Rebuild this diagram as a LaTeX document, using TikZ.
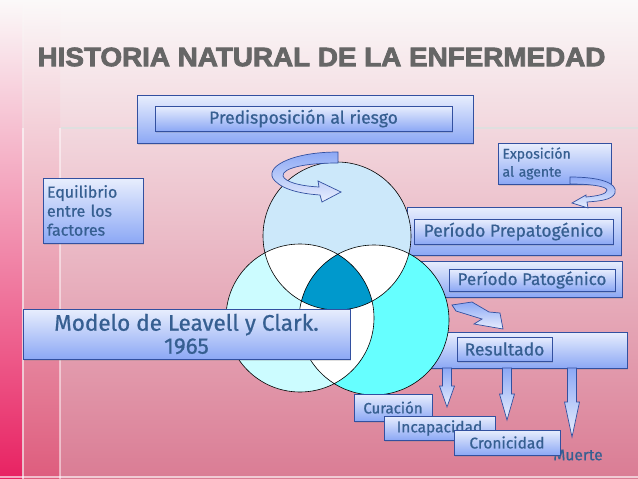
\documentclass[tikz,border=0pt]{standalone}
\usepackage{fontspec}
\setmainfont{Fira Sans}
\newfontfamily\lblfont[FakeBold=0.7]{Fira Sans}
\newfontfamily\titlefont[FakeBold=3]{Liberation Sans}
\usetikzlibrary{shadows}

\definecolor{bgtop}{RGB}{251,249,249}
\definecolor{bgmid}{RGB}{237,206,209}
\definecolor{bgbot}{RGB}{218,124,148}
\definecolor{stripmid}{RGB}{238,170,180}
\definecolor{stripbot}{RGB}{222,92,125}
\definecolor{edgemid}{RGB}{240,150,170}
\definecolor{edgebot}{RGB}{232,34,98}
\definecolor{boxline}{RGB}{50,80,160}
\definecolor{boxtop}{RGB}{232,238,253}
\definecolor{boxbot}{RGB}{140,168,245}
\definecolor{txtblue}{RGB}{54,95,145}
\definecolor{titlegray}{RGB}{102,102,102}
\definecolor{topcirc}{RGB}{204,232,250}
\definecolor{leftcirc}{RGB}{204,252,255}
\definecolor{rightcirc}{RGB}{102,255,255}
\definecolor{venndark}{RGB}{0,153,204}

\begin{document}
\begin{tikzpicture}[x=1pt, y=-1pt,
    every node/.style={text=txtblue},
    box/.style={draw=boxline, line width=0.8pt, rectangle, inner sep=0pt,
        top color=boxtop, bottom color=boxbot,
        drop shadow={opacity=0.25, shadow xshift=1pt, shadow yshift=-1.5pt}},
    blkarr/.style={draw=boxline, line width=0.7pt, top color=boxbot, bottom color=boxtop}]
    \useasboundingbox (0,0) rectangle (638,479);
    % background
    \shade[top color=bgtop, middle color=bgmid, bottom color=bgbot] (0,0) rectangle (638,479);
    \shade[top color=bgtop, middle color=stripmid, bottom color=stripbot] (24,0) rectangle (60,479);
    \shade[top color=bgtop, middle color=edgemid, bottom color=edgebot] (0,0) rectangle (22,479);
    \draw[white, opacity=0.5, line width=2pt] (23,128) -- (23,479);
    \draw[white, opacity=0.5, line width=2pt] (60,128) -- (60,479);
    \draw[gray!25, line width=1.5pt] (61,128) -- (638,128);
    \draw[white, opacity=0.6, line width=1.5pt] (0,477) -- (638,477);

    % title
    \node[text=titlegray, font=\titlefont\fontsize{26.5}{30}\selectfont\bfseries] (title) at (321.5,57)
        {\scalebox{1.05}[1]{HISTORIA NATURAL DE LA ENFERMEDAD}};

    % boxes behind the circles
    \node[box, minimum width=336pt, minimum height=48pt] (predOut) at (305,119) {};
    \node[box, minimum width=297pt, minimum height=25pt, font=\lblfont\fontsize{17.5}{20}\selectfont] (pred) at (303.5,118.5) {Predisposición al riesgo};
    \node[box, minimum width=214pt, minimum height=48pt] (prepOut) at (514,231) {};
    \node[box, minimum width=202pt, minimum height=36pt] (patOut) at (521,279) {};
    \node[box, minimum width=227pt, minimum height=36pt] (resOut) at (513.5,350) {};

    % venn
    \coordinate (ct) at (337,236);
    \coordinate (cl) at (300,318);
    \coordinate (cr) at (374,320);
    \fill[topcirc] (ct) circle (74);
    \fill[leftcirc] (cl) circle (74);
    \fill[rightcirc] (cr) circle (75);
    \begin{scope}
        \clip (ct) circle (74);
        \fill[white] (cl) circle (74);
        \fill[white] (cr) circle (75);
    \end{scope}
    \begin{scope}
        \clip (cl) circle (74);
        \fill[white] (cr) circle (75);
    \end{scope}
    \begin{scope}
        \clip (ct) circle (74);
        \clip (cl) circle (74);
        \fill[venndark] (cr) circle (75);
    \end{scope}
    \draw[line width=0.6pt] (ct) circle (74) (cl) circle (74) (cr) circle (75);

    % curved arrows
    \draw[blkarr] (338,152) .. controls (290,152) and (262,168) .. (275,181)
        .. controls (285,191) and (305,194) .. (320,195) -- (322,202) -- (341,192) -- (318,181) -- (319,187)
        .. controls (300,186) and (285,182) .. (283,176) .. controls (282,168) and (305,163) .. (338,163) -- cycle;

    % text boxes
    \node[box, minimum width=100pt, minimum height=65pt, text width=92pt, align=left,
        font=\lblfont\fontsize{16}{19}\selectfont] (equi) at (93,210.5) {Equilibrio\\entre los\\factores};
    \node[box, minimum width=113pt, minimum height=41pt, text width=104pt, align=left,
        font=\lblfont\fontsize{14}{18}\selectfont] (expo) at (554.5,163.5) {Exposición\\al agente};
    \draw[blkarr] (570,177) .. controls (600,177) and (618,183) .. (615,193)
        .. controls (612,200) and (600,201) .. (587,202) -- (588,208) -- (572,203) -- (586,195) -- (586,197)
        .. controls (598,196) and (607,194) .. (607,190) .. controls (606,186) and (590,184) .. (570,184) -- cycle;
    \node[box, minimum width=199pt, minimum height=25pt, font=\lblfont\fontsize{17.5}{20}\selectfont] (prep) at (513.5,231.5) {Período Prepatogénico};
    \node[box, minimum width=166pt, minimum height=22pt, font=\lblfont\fontsize{17}{20}\selectfont] (pat) at (532,280) {Período Patogénico};
    \draw[blkarr] (452,305) -- (472,302) -- (489,312) -- (500,313) -- (503,329) -- (474,324) -- (482,319) -- (456,311) -- cycle;
    \node[box, minimum width=95pt, minimum height=24pt, font=\lblfont\fontsize{17.5}{20}\selectfont] (res) at (504.5,349) {Resultado};
    \node[box, minimum width=327pt, minimum height=50pt, align=center,
        font=\lblfont\fontsize{22.5}{23}\selectfont] (modelo) at (186.5,334) {Modelo de Leavell y Clark.\\1965};

    % outcome arrows
    \foreach \ax/\ay/\hl in {447/407/21, 507/420/26, 572/437/35} {
        \draw[blkarr] (\ax-4.5,368) -- (\ax+4.5,368) -- (\ax+4.5,\ay-\hl) -- (\ax+7.5,\ay-\hl)
            -- (\ax,\ay) -- (\ax-7.5,\ay-\hl) -- (\ax-4.5,\ay-\hl) -- cycle;
    }

    % outcomes
    \node[box, minimum width=78pt, minimum height=27pt, font=\lblfont\fontsize{15}{18}\selectfont] (cura) at (393,407.5) {Curación};
    \node[box, minimum width=111pt, minimum height=24pt, font=\lblfont\fontsize{15.5}{18}\selectfont] (inca) at (439.5,428) {Incapacidad};
    \node[font=\lblfont\fontsize{15.5}{18}\selectfont] (muerte) at (578,455) {Muerte};
    \node[box, minimum width=106pt, minimum height=25pt, font=\lblfont\fontsize{15.5}{18}\selectfont] (cron) at (507,442.5) {Cronicidad};
\end{tikzpicture}
\end{document}
